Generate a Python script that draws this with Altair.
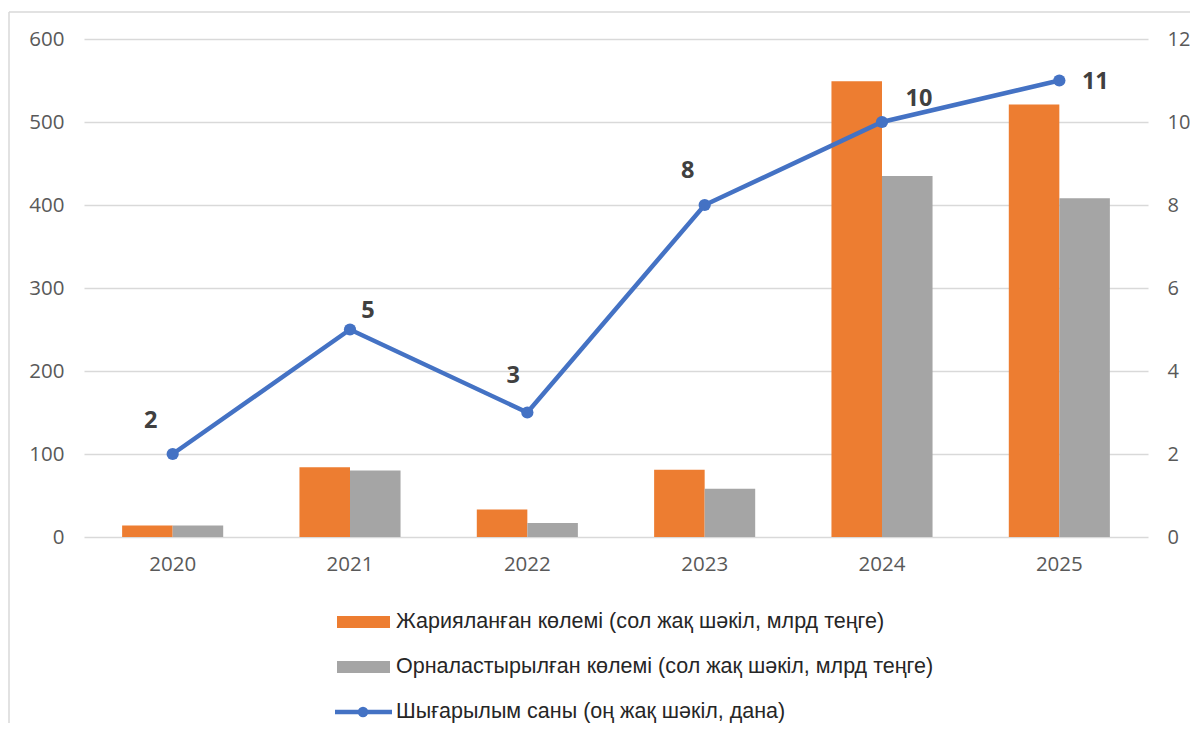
import altair as alt
import pandas as pd

years = ["2020", "2021", "2022", "2023", "2024", "2025"]
published = [14, 84, 33, 81, 549, 521]
placed = [14, 80, 17, 58, 435, 408]
issues = [2, 5, 3, 8, 10, 11]

s_pub = "Жарияланған көлемі (сол жақ шәкіл, млрд теңге)"
s_pla = "Орналастырылған көлемі (сол жақ шәкіл, млрд теңге)"
s_iss = "Шығарылым саны (оң жақ шәкіл, дана)"
series = [s_pub, s_pla]

ORANGE = "#ED7D31"
GRAY = "#A5A5A5"
BLUE = "#4472C4"
GRID = "#D9D9D9"
LABEL = "#595959"
AXFONT = "Open Sans"
LEGFONT = "Liberation Sans"

bars_df = pd.DataFrame({
    "year": years * 2,
    "series": [s_pub] * len(years) + [s_pla] * len(years),
    "value": published + placed,
})
line_df = pd.DataFrame({"year": years, "count": issues})

W, H = 1064, 498

xenc = alt.X("year:N", sort=years,
             scale=alt.Scale(paddingInner=0.43, paddingOuter=0.215),
             axis=alt.Axis(title=None, labelAngle=0, labelFontSize=20.5, labelColor=LABEL,
                           labelFont=AXFONT, domain=False, ticks=False, labelPadding=17))

bars = alt.Chart(bars_df).mark_bar().encode(
    x=xenc,
    xOffset=alt.XOffset("series:N", sort=series, scale=alt.Scale(domain=series)),
    y=alt.Y("value:Q", scale=alt.Scale(domain=[0, 600]),
            axis=alt.Axis(title=None, orient="left", values=[0, 100, 200, 300, 400, 500, 600],
                          labelFontSize=20.5, labelColor=LABEL, labelFont=AXFONT,
                          domain=False, ticks=False, labelPadding=20,
                          grid=True, gridColor=GRID, gridWidth=1.5)),
    color=alt.Color("series:N", scale=alt.Scale(domain=series, range=[ORANGE, GRAY]), legend=None),
)

yline = alt.Y("count:Q", scale=alt.Scale(domain=[0, 12]),
              axis=alt.Axis(title=None, orient="right", values=[0, 2, 4, 6, 8, 10, 12],
                            labelFontSize=20, labelColor=LABEL, labelFont=AXFONT,
                            domain=False, ticks=False, labelPadding=19, grid=False))

line = alt.Chart(line_df).mark_line(color=BLUE, strokeWidth=4.5).encode(
    x=alt.X("year:N", sort=years), y=yline)
pts = alt.Chart(line_df).mark_circle(color=BLUE, size=150, opacity=1).encode(
    x=alt.X("year:N", sort=years), y=alt.Y("count:Q"))

offsets = [(-22, -33), (18, -19), (-14, -37), (-17, -34), (37, -23), (36, 1)]
texts = []
for yr, (dx, dy) in zip(years, offsets):
    texts.append(
        alt.Chart(line_df).transform_filter(alt.datum.year == yr)
        .mark_text(dx=dx, dy=dy, fontSize=23.5, fontWeight="bold", color="#404040",
                   font=AXFONT, align="center", baseline="middle")
        .encode(x=alt.X("year:N", sort=years), y=alt.Y("count:Q"), text="count:Q")
    )

right = alt.layer(line, pts, *texts)

one = pd.DataFrame({"a": [0]})
leg = []
# legend swatches
leg.append(alt.Chart(one).mark_rect(color=ORANGE).encode(
    x=alt.value(253), x2=alt.value(306), y=alt.value(577), y2=alt.value(589)))
leg.append(alt.Chart(one).mark_rect(color=GRAY).encode(
    x=alt.value(253), x2=alt.value(306), y=alt.value(622), y2=alt.value(634)))
leg.append(alt.Chart(one).mark_rule(color=BLUE, strokeWidth=4.5).encode(
    x=alt.value(251), x2=alt.value(308), y=alt.value(673)))
leg.append(alt.Chart(one).mark_circle(color=BLUE, size=110, opacity=1).encode(
    x=alt.value(279), y=alt.value(673)))
for label, yy in [(s_pub, 583), (s_pla, 628), (s_iss, 673)]:
    leg.append(alt.Chart(one).mark_text(align="left", baseline="middle", fontSize=21.5,
                                        font=LEGFONT, color="#262626", text=label).encode(
        x=alt.value(312), y=alt.value(yy)))
# outer border (left and top edges)
leg.append(alt.Chart(one).mark_rule(color=GRID, strokeWidth=1.5).encode(
    x=alt.value(-75), y=alt.value(-27), y2=alt.value(H + 200)))
leg.append(alt.Chart(one).mark_rule(color=GRID, strokeWidth=1.5).encode(
    x=alt.value(-75), x2=alt.value(W + 60), y=alt.value(-27)))

chart = alt.layer(bars, right, *leg).resolve_scale(y="independent").properties(
    width=W, height=H,
    padding={"left": 76, "top": 31, "right": 42, "bottom": 186},
    autosize=alt.AutoSizeParams(type="none"),
).configure_view(stroke=None)

chart.save("out.html", embed_options={"renderer": "svg", "actions": False})
